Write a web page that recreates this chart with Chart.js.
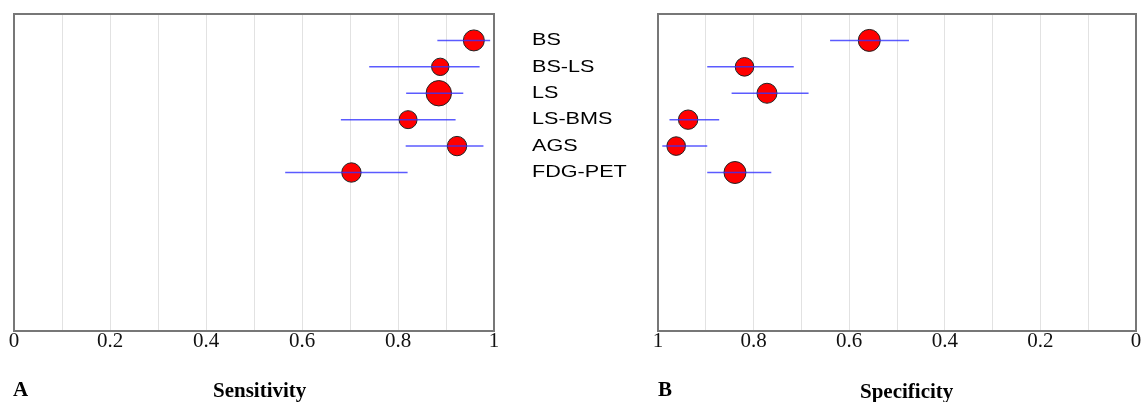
<!DOCTYPE html>
<html><head><meta charset="utf-8">
<script src="https://cdn.jsdelivr.net/npm/chart.js@4.4.0/dist/chart.umd.min.js"></script>
<style>
html,body{margin:0;padding:0;background:#fff;}
#wrap{position:relative;width:1142px;height:402px;overflow:hidden;background:#fff;}
#c1{position:absolute;left:0;top:0;width:500px;height:402px;}
#c2{position:absolute;left:500px;top:0;width:642px;height:402px;}
.t{position:absolute;font-family:"Liberation Serif","Times New Roman",serif;font-weight:bold;font-size:21px;line-height:21px;color:#000;white-space:nowrap;}
</style></head><body>
<div id="wrap">
<canvas id="c1" width="500" height="402"></canvas>
<canvas id="c2" width="642" height="402"></canvas>
<div class="t" style="left:13px;top:379px;">A</div>
<div class="t" style="left:213px;top:380px;">Sensitivity</div>
<div class="t" style="left:658px;top:379px;">B</div>
<div class="t" style="left:860px;top:381px;">Specificity</div>
</div>
<script>
// ---- data ----
const categories = ['BS','BS-LS','LS','LS-BMS','AGS','FDG-PET'];
const sensitivity = [0.958,0.888,0.885,0.821,0.923,0.703];
const sensLower   = [0.882,0.740,0.817,0.681,0.816,0.565];
const sensUpper   = [0.992,0.970,0.936,0.920,0.978,0.820];
const specificity = [0.558,0.819,0.772,0.937,0.962,0.839];
const specLower   = [0.475,0.716,0.685,0.872,0.897,0.763];
const specUpper   = [0.640,0.897,0.846,0.976,0.991,0.897];
const tickLabels  = ['0','0.2','0.4','0.6','0.8','1'];

// ---- styles ----
const sensMarkerR = [10.5,8.7,12.7,9,9.7,9.7];
const specMarkerR = [11,9.3,10,9.7,9.3,11];
const ciColor = 'rgba(50,50,255,0.8)';

const Lin = Chart.registry.getScale('linear');
class StretchLabelScale extends Lin {
  drawLabels(area){
    const ctx = this.ctx;
    ctx.save();
    ctx.translate(this.left,0); ctx.scale(1.27,1); ctx.translate(-this.left,0);
    super.drawLabels(area);
    ctx.restore();
  }
}
StretchLabelScale.id = 'stretchLabels';
StretchLabelScale.defaults = Lin.defaults;
Chart.register(StretchLabelScale);

const frame = {
  id:'frame',
  afterDraw(chart){
    const {ctx, chartArea:a} = chart;
    ctx.save();
    ctx.strokeStyle = '#777'; ctx.lineWidth = 2;
    ctx.strokeRect(a.left, a.top, a.right-a.left, a.bottom-a.top);
    ctx.restore();
  }
};

function xScale(reverse){
  return {
    type:'linear', min:0, max:1, reverse:reverse,
    afterFit(s){ s.height = 71; s.paddingLeft = 0; s.paddingRight = 0; },
    grid:{ color:'#e2e2e2', lineWidth:1, drawTicks:false },
    border:{ display:false },
    ticks:{
      stepSize:0.1, autoSkip:false, maxRotation:0, padding:-2,
      color:'#111',
      font:{ family:'"Liberation Serif","Times New Roman",serif', size:21 },
      callback(v){ const k = Math.round(v*10); return k%2===0 ? tickLabels[k/2] : ''; }
    }
  };
}

function datasets(vals, lo, hi, radii){
  const ds = categories.map((c,i)=>({
    type:'line',
    data:[{x:lo[i],y:i},{x:hi[i],y:i}],
    borderColor:ciColor, borderWidth:1.5, pointRadius:0, showLine:true, fill:false
  }));
  ds.push({
    type:'scatter',
    data: categories.map((c,i)=>({x:vals[i], y:i})),
    pointRadius: radii,
    pointBackgroundColor:'#ff0000',
    pointBorderColor:'#222',
    pointBorderWidth:1
  });
  return ds;
}

const common = {
  responsive:false, animation:false, events:[],
  plugins:{ legend:{display:false}, tooltip:{enabled:false} }
};

new Chart(document.getElementById('c1'), {
  type:'scatter',
  data:{ datasets: datasets(sensitivity, sensLower, sensUpper, sensMarkerR) },
  options: Object.assign({}, common, {
    layout:{ autoPadding:false, padding:{ left:14, right:6, top:14, bottom:0 } },
    scales:{
      x: xScale(false),
      y: { type:'linear', display:false, min:-1, max:11, reverse:true }
    }
  }),
  plugins:[frame]
});

new Chart(document.getElementById('c2'), {
  type:'scatter',
  data:{ datasets: datasets(specificity, specLower, specUpper, specMarkerR) },
  options: Object.assign({}, common, {
    layout:{ autoPadding:false, padding:{ left:32, right:6, top:14, bottom:0 } },
    scales:{
      x: xScale(true),
      y: {
        type:'stretchLabels', position:'left', min:-1, max:11, reverse:true,
        afterFit(s){ s.width = 126; },
        afterBuildTicks(s){ s.ticks = categories.map((c,i)=>({value:i})); },
        grid:{ display:false, drawTicks:false },
        border:{ display:false },
        ticks:{
          crossAlign:'far', padding:0, color:'#000', autoSkip:false,
          font:{ family:'"Liberation Sans",Arial,sans-serif', size:17 },
          callback(v){ return categories[v] !== undefined ? categories[v] : ''; }
        }
      }
    }
  }),
  plugins:[frame]
});
</script>
</body></html>
